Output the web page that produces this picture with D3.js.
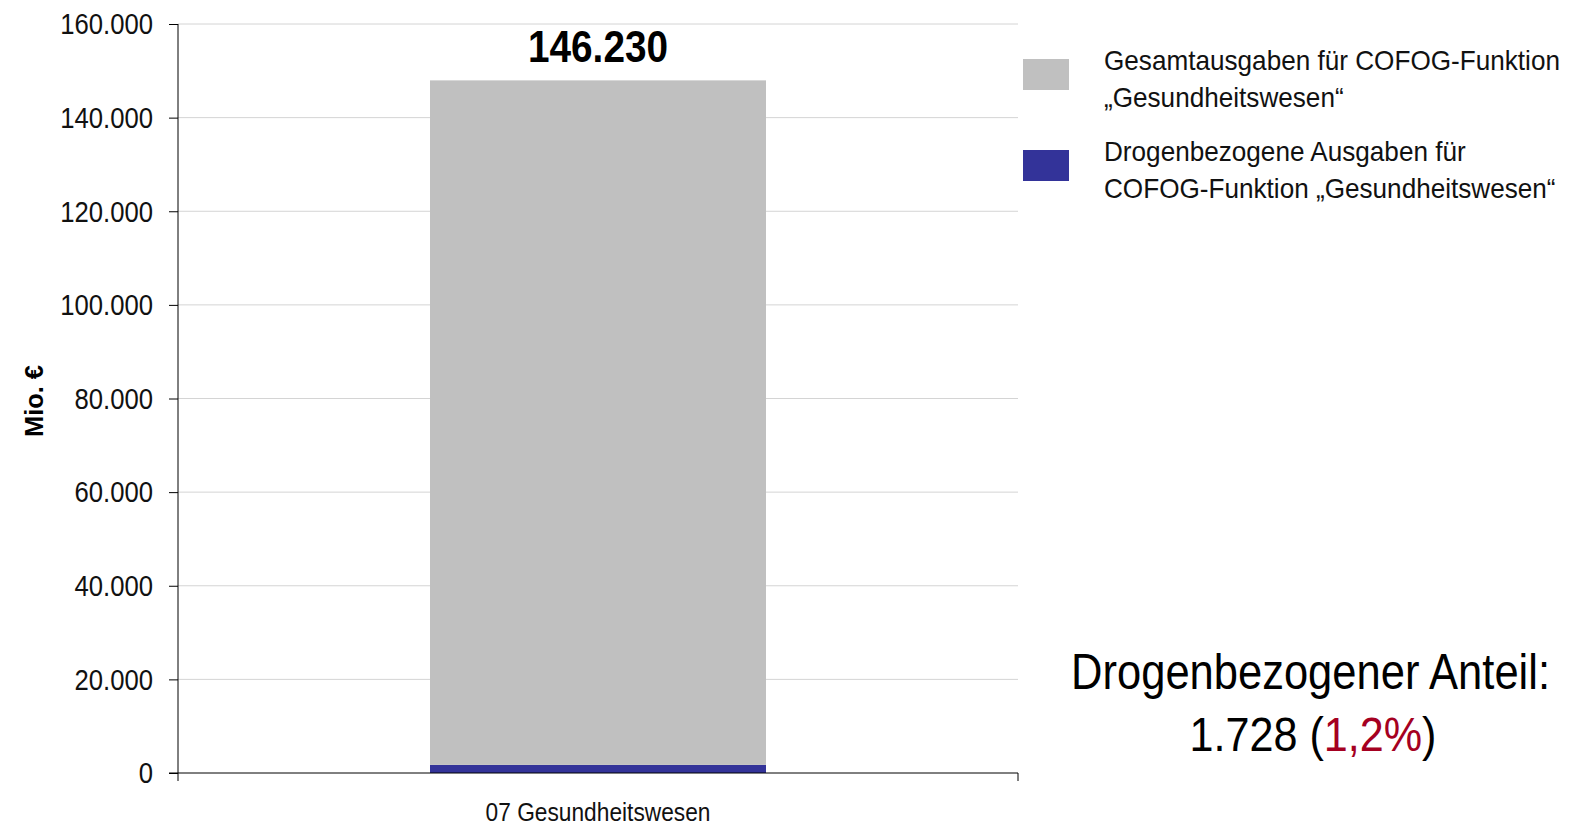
<!DOCTYPE html>
<html><head><meta charset="utf-8">
<script src="https://cdn.jsdelivr.net/npm/d3@7"></script>
<style>
body{margin:0;background:#fff;}
text{font-family:"Liberation Sans",Arial,sans-serif;}
</style></head>
<body><svg id="c" width="1571" height="828"></svg>
<script>
const categories = ["07 Gesundheitswesen"];
const drugValues = [1728];
const totalValues = [146230];
const yTicks = [0,20000,40000,60000,80000,100000,120000,140000,160000];
const legendLabels = [["Gesamtausgaben für COFOG-Funktion","„Gesundheitswesen“"],["Drogenbezogene Ausgaben für","COFOG-Funktion „Gesundheitswesen“"]];
const shareLabel = "1,2%";
const colors = ["#c0c0c0","#333399"];

const svg = d3.select("#c");
const pL=178, pR=1018, pT=24, pB=773;
const x = d3.scaleBand().domain(categories).range([pL,pR]).paddingInner(0).paddingOuter(0.3);
const y = d3.scaleLinear().domain([0,160000]).range([pB,pT]);
const fmt = d3.formatLocale({decimal:",",thousands:".",grouping:[3],currency:["","€"]}).format(",d");

// condense text horizontally (narrow font look)
function squeeze(sel, px, py, k){
  sel.attr("x",0).attr("y",0).attr("transform",`translate(${px},${py}) scale(${k},1)`);
}
function fitTo(sel, px, py, target){
  sel.attr("x",0).attr("y",0);
  const w = sel.node().getComputedTextLength();
  const k = target/w;
  sel.attr("transform",`translate(${px},${py}) scale(${k},1)`);
  return k;
}

// grid
svg.append("g").selectAll("line").data(yTicks.filter(d=>d>0)).join("line")
  .attr("x1",pL).attr("x2",pR).attr("y1",d=>y(d)).attr("y2",d=>y(d))
  .attr("stroke","#d4d4d4").attr("stroke-width",1);

// stacked bars
const bw = 336;
categories.forEach((c,i)=>{
  const cx = x(c)+x.bandwidth()/2;
  svg.append("rect").attr("x",cx-bw/2).attr("width",bw)
    .attr("y",y(drugValues[i])).attr("height",y(0)-y(drugValues[i])).attr("fill",colors[1]);
  svg.append("rect").attr("x",cx-bw/2).attr("width",bw)
    .attr("y",y(drugValues[i]+totalValues[i])).attr("height",y(drugValues[i])-y(drugValues[i]+totalValues[i])).attr("fill",colors[0]);
  const t = svg.append("text").attr("text-anchor","middle").attr("font-size",44).attr("font-weight","bold").attr("fill","#000")
    .text(fmt(totalValues[i]));
  fitTo(t, cx, y(drugValues[i]+totalValues[i])-18.5, 140);
});

// y axis
const ya = svg.append("g").attr("transform",`translate(${pL},0)`)
  .call(d3.axisLeft(y).tickValues(yTicks).tickFormat(fmt).tickSize(9).tickPadding(16));
ya.select(".domain").attr("stroke","#000").attr("d",`M0,${pT}V${pB}`);
ya.selectAll(".tick line").attr("stroke","#000");
ya.selectAll(".tick text").attr("font-size",29).attr("fill","#111").attr("font-family",null)
  .each(function(){ squeeze(d3.select(this), -25, 0, 0.885); d3.select(this).attr("dy","0.34em"); });

// x axis
const xa = svg.append("g").attr("transform",`translate(0,${pB})`);
xa.append("line").attr("x1",pL-9).attr("x2",pR).attr("y1",0).attr("y2",0).attr("stroke","#000");
[pL,pR].forEach(v=>xa.append("line").attr("x1",v).attr("x2",v).attr("y1",0).attr("y2",8).attr("stroke","#000"));
categories.forEach(c=>{
  const t = xa.append("text").attr("text-anchor","middle").attr("font-size",26).attr("fill","#111").text(c);
  fitTo(t, x(c)+x.bandwidth()/2, 48, 225);
});

// y label
const yl = svg.append("text").attr("text-anchor","middle").attr("font-size",25).attr("font-weight","bold").text("Mio. €");
yl.attr("x",0).attr("y",0);
{ const w = yl.node().getComputedTextLength(); yl.attr("transform",`translate(43,401) rotate(-90) scale(${72/w},1)`); }

// legend
const lg = svg.append("g");
let kLeg = null;
legendLabels.forEach((lines,i)=>{
  const yy = 59 + i*91;
  lg.append("rect").attr("x",1023).attr("y",yy).attr("width",46).attr("height",31).attr("fill",colors[i]);
  lines.forEach((t,j)=>{
    const tx = lg.append("text").attr("font-size",28).attr("fill","#111").text(t);
    if(kLeg===null) kLeg = fitTo(tx, 1104, yy+11+j*37, 456);
    else squeeze(tx, 1104, yy+11+j*37, kLeg);
  });
});

// annotation
const a1 = svg.append("text").attr("text-anchor","end").attr("font-size",50).attr("fill","#000")
  .text("Drogenbezogener Anteil:");
fitTo(a1, 1550, 689, 479);
const t2 = svg.append("text").attr("text-anchor","middle").attr("font-size",49).attr("fill","#000");
t2.append("tspan").text(fmt(drugValues[0])+" (");
t2.append("tspan").attr("fill","#a50021").text(shareLabel);
t2.append("tspan").text(")");
fitTo(t2, 1313, 751, 247);
</script></body></html>
